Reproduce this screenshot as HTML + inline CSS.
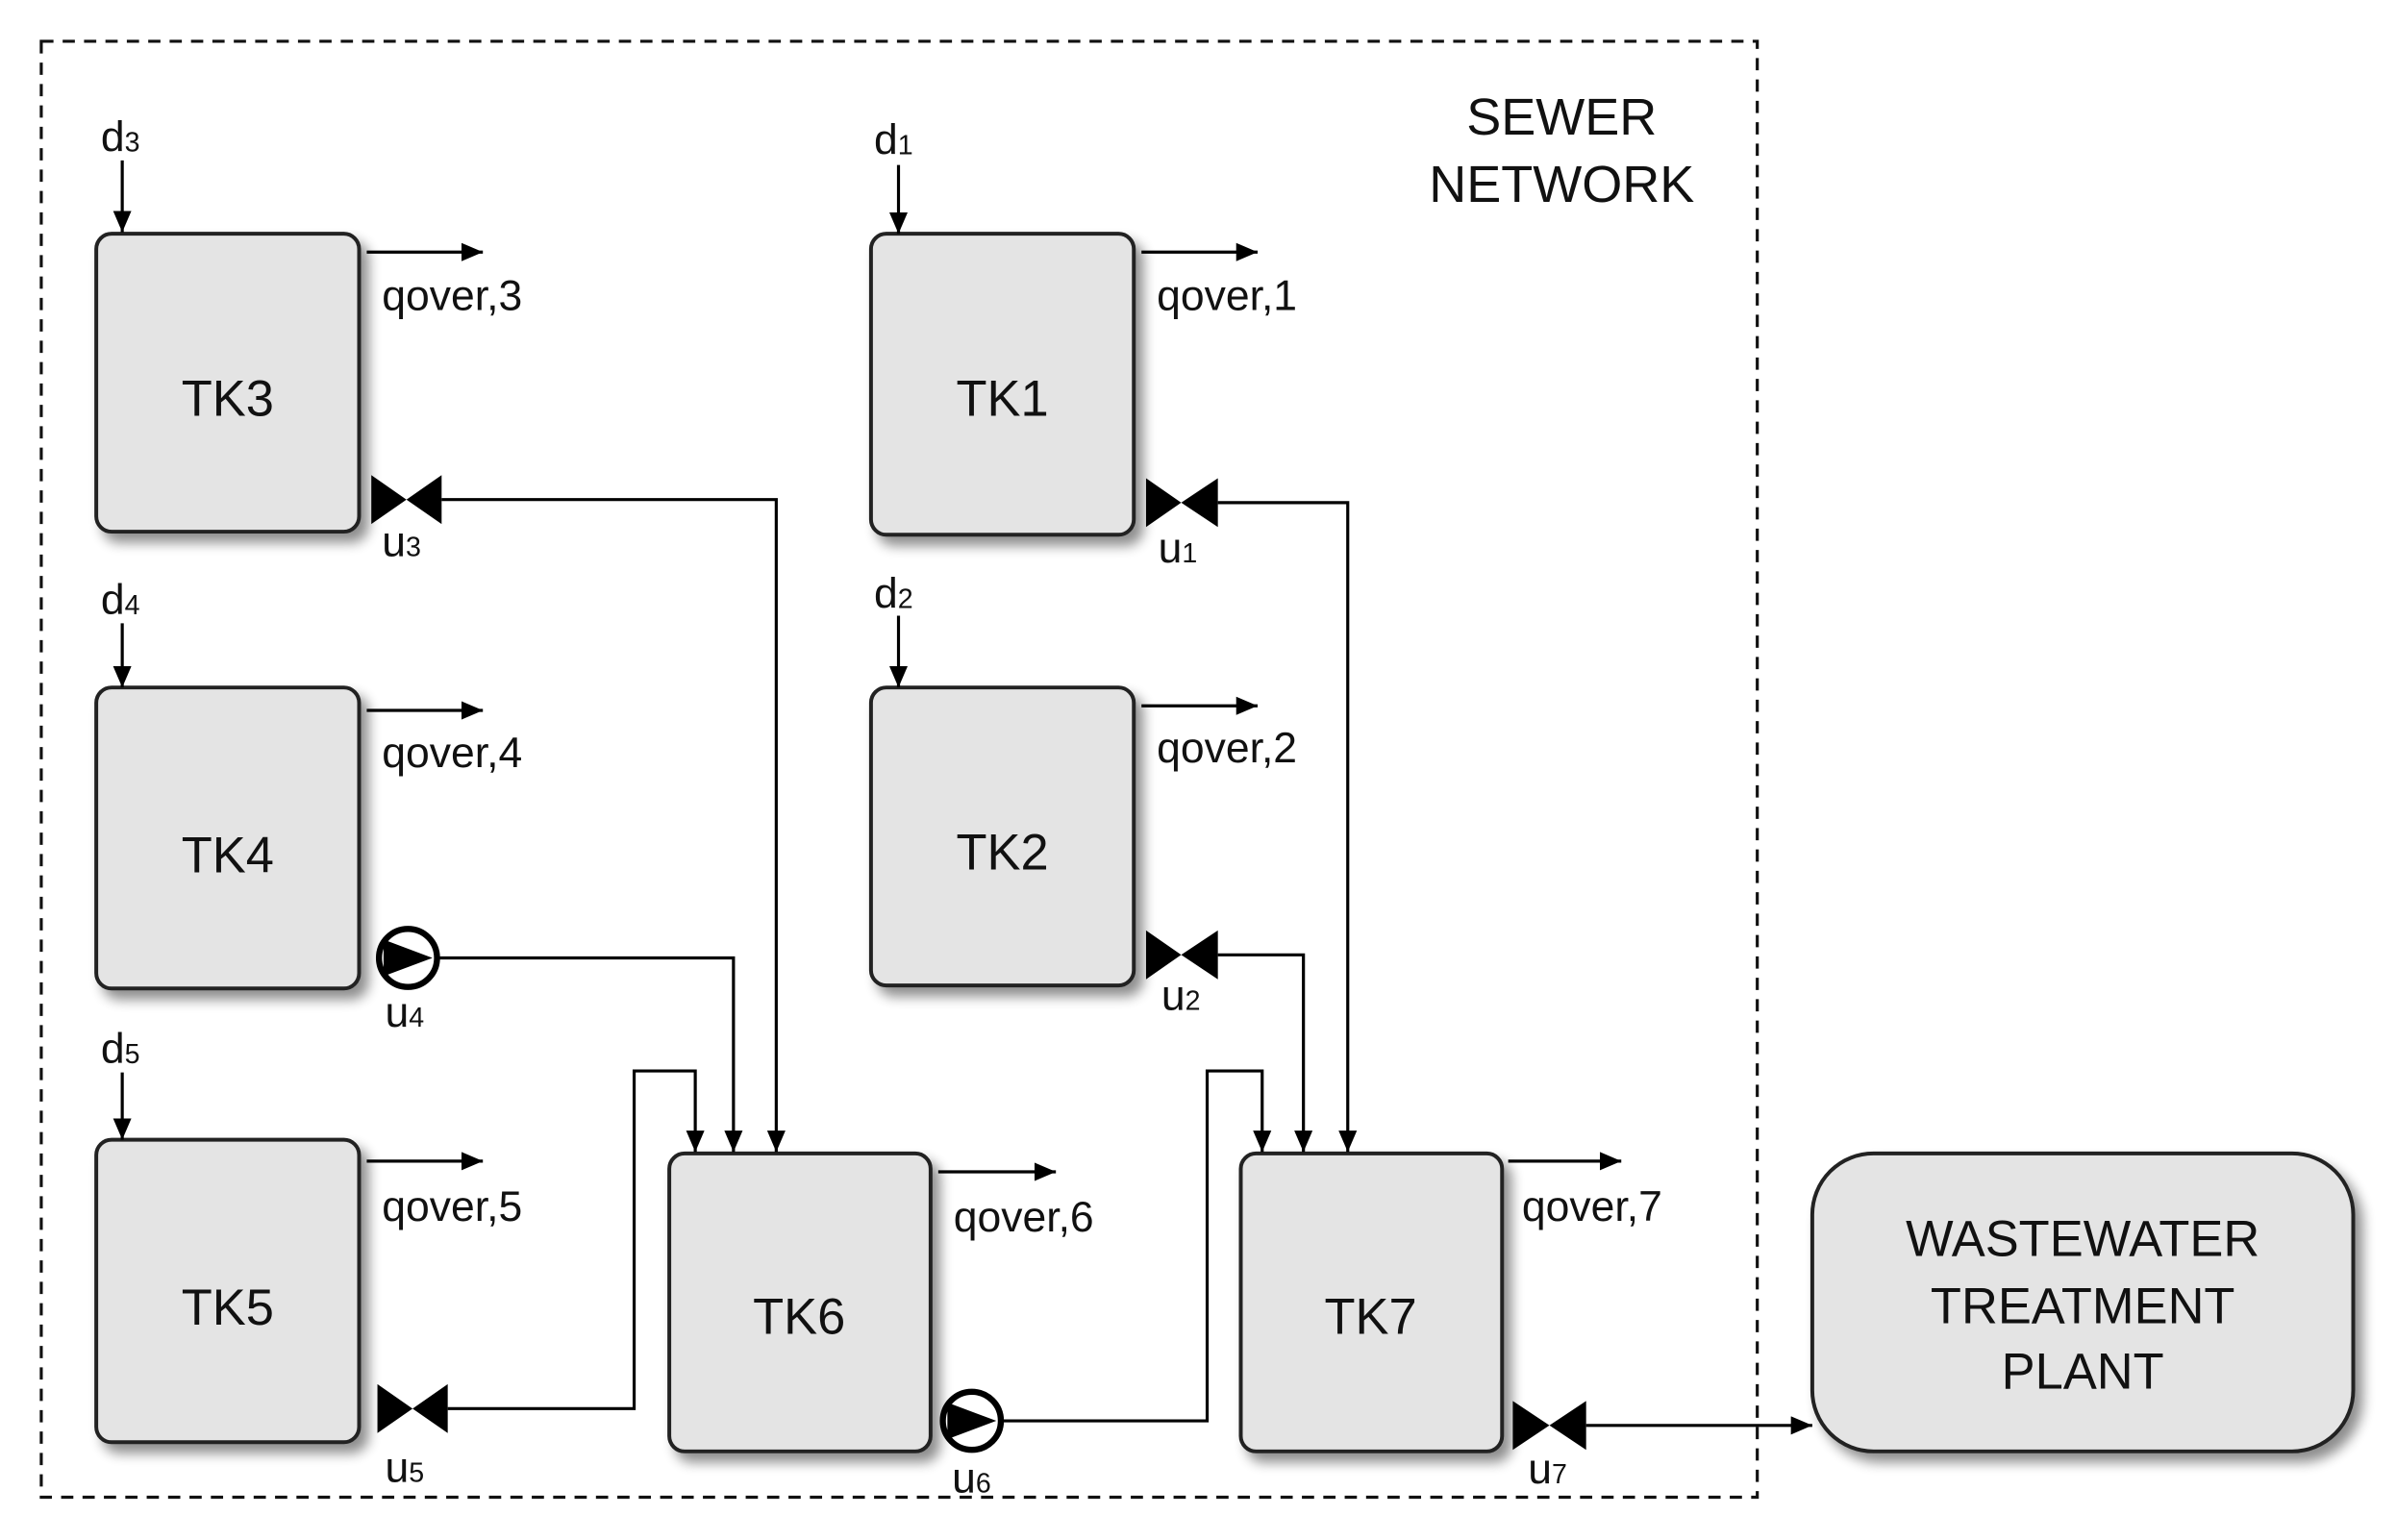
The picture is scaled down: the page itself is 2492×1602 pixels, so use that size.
<!DOCTYPE html>
<html><head><meta charset="utf-8"><style>
html,body{margin:0;padding:0;background:#fff;}
svg{display:block;}
text{font-family:"Liberation Sans Narrow","Liberation Sans",sans-serif;fill:#111;}
</style></head><body>
<svg width="2492" height="1602" viewBox="0 0 1568 1008" preserveAspectRatio="none" xmlns="http://www.w3.org/2000/svg">
<defs>
<filter id="sh" x="-20%" y="-20%" width="150%" height="150%">
<feGaussianBlur in="SourceAlpha" stdDeviation="4"/>
<feOffset dx="5" dy="6" result="b"/>
<feComponentTransfer><feFuncA type="linear" slope="0.45"/></feComponentTransfer>
<feMerge><feMergeNode/><feMergeNode in="SourceGraphic"/></feMerge>
</filter>
<marker id="ar" viewBox="0 0 14 12" refX="14" refY="6" markerWidth="14" markerHeight="12" markerUnits="userSpaceOnUse" orient="auto">
<path d="M0,0 L14,6 L0,12 z" fill="#000"/>
</marker>
</defs>
<rect x="27" y="27" width="1123" height="953" fill="none" stroke="#111" stroke-width="2" stroke-dasharray="8,6"/>
<text x="1022" y="88" font-size="34" text-anchor="middle">SEWER</text>
<text x="1022" y="132" font-size="34" text-anchor="middle">NETWORK</text>

<g fill="#e4e4e4" stroke="#222" stroke-width="2.5" filter="url(#sh)">
<rect x="63" y="153" width="172" height="195" rx="10"/>
<rect x="570" y="153" width="172" height="197" rx="10"/>
<rect x="63" y="450" width="172" height="197" rx="10"/>
<rect x="570" y="450" width="172" height="195" rx="10"/>
<rect x="63" y="746" width="172" height="198" rx="10"/>
<rect x="438" y="755" width="171" height="195" rx="10"/>
<rect x="812" y="755" width="171" height="195" rx="10"/>
<rect x="1186" y="755" width="354" height="195" rx="40"/>
</g>
<g font-size="33" text-anchor="middle">
<text x="149" y="272">TK3</text>
<text x="656" y="272">TK1</text>
<text x="149" y="571">TK4</text>
<text x="656" y="569">TK2</text>
<text x="149" y="867">TK5</text>
<text x="523" y="873">TK6</text>
<text x="897" y="873">TK7</text>
<text x="1363" y="822">WASTEWATER</text>
<text x="1363" y="866">TREATMENT</text>
<text x="1363" y="909">PLANT</text>
</g>

<g stroke="#000" stroke-width="2" fill="none" marker-end="url(#ar)">
<line x1="80" y1="105" x2="80" y2="152"/>
<line x1="80" y1="408" x2="80" y2="450"/>
<line x1="80" y1="702" x2="80" y2="746"/>
<line x1="588" y1="108" x2="588" y2="153"/>
<line x1="588" y1="403" x2="588" y2="450"/>
<line x1="240" y1="165" x2="316" y2="165"/>
<line x1="240" y1="465" x2="316" y2="465"/>
<line x1="240" y1="760" x2="316" y2="760"/>
<line x1="747" y1="165" x2="823" y2="165"/>
<line x1="747" y1="462" x2="823" y2="462"/>
<line x1="614" y1="767" x2="691" y2="767"/>
<line x1="987" y1="760" x2="1061" y2="760"/>
<polyline points="289,327 508,327 508,754"/>
<polyline points="797,329 882,329 882,754"/>
<polyline points="287,627 480,627 480,754"/>
<polyline points="797,625 853,625 853,754"/>
<polyline points="293,922 415,922 415,701 455,701 455,754"/>
<polyline points="656,930 790,930 790,701 826,701 826,754"/>
<line x1="1038" y1="933" x2="1186" y2="933"/>
</g>

<g fill="#000">
<path d="M243,311 L266,327 L243,343 z M289,311 L266,327 L289,343 z"/>
<path d="M750,313 L773,329 L750,345 z M797,313 L773,329 L797,345 z"/>
<path d="M750,609 L773,625 L750,641 z M797,609 L773,625 L797,641 z"/>
<path d="M247,906 L270,922 L247,938 z M293,906 L270,922 L293,938 z"/>
<path d="M990,917 L1014,933 L990,949 z M1038,917 L1014,933 L1038,949 z"/>
</g>
<g>
<circle cx="267" cy="627" r="19" fill="#fff" stroke="#000" stroke-width="4"/>
<path d="M251,615 L283,627 L251,639 z" fill="#000"/>
<circle cx="636" cy="930" r="19" fill="#fff" stroke="#000" stroke-width="4"/>
<path d="M620,918 L652,930 L620,942 z" fill="#000"/>
</g>

<g font-size="28">
<text x="250" y="203">qover,3</text>
<text x="250" y="502">qover,4</text>
<text x="250" y="799">qover,5</text>
<text x="757" y="203">qover,1</text>
<text x="757" y="499">qover,2</text>
<text x="624" y="806">qover,6</text>
<text x="996" y="799">qover,7</text>
<text x="66" y="99">d<tspan font-size="18">3</tspan></text>
<text x="66" y="402">d<tspan font-size="18">4</tspan></text>
<text x="66" y="696">d<tspan font-size="18">5</tspan></text>
<text x="572" y="101">d<tspan font-size="18">1</tspan></text>
<text x="572" y="398">d<tspan font-size="18">2</tspan></text>
<text x="250" y="364">u<tspan font-size="18">3</tspan></text>
<text x="758" y="368">u<tspan font-size="18">1</tspan></text>
<text x="252" y="672">u<tspan font-size="18">4</tspan></text>
<text x="760" y="661">u<tspan font-size="18">2</tspan></text>
<text x="252" y="970">u<tspan font-size="18">5</tspan></text>
<text x="623" y="977">u<tspan font-size="18">6</tspan></text>
<text x="1000" y="971">u<tspan font-size="18">7</tspan></text>
</g>
</svg>
</body></html>
